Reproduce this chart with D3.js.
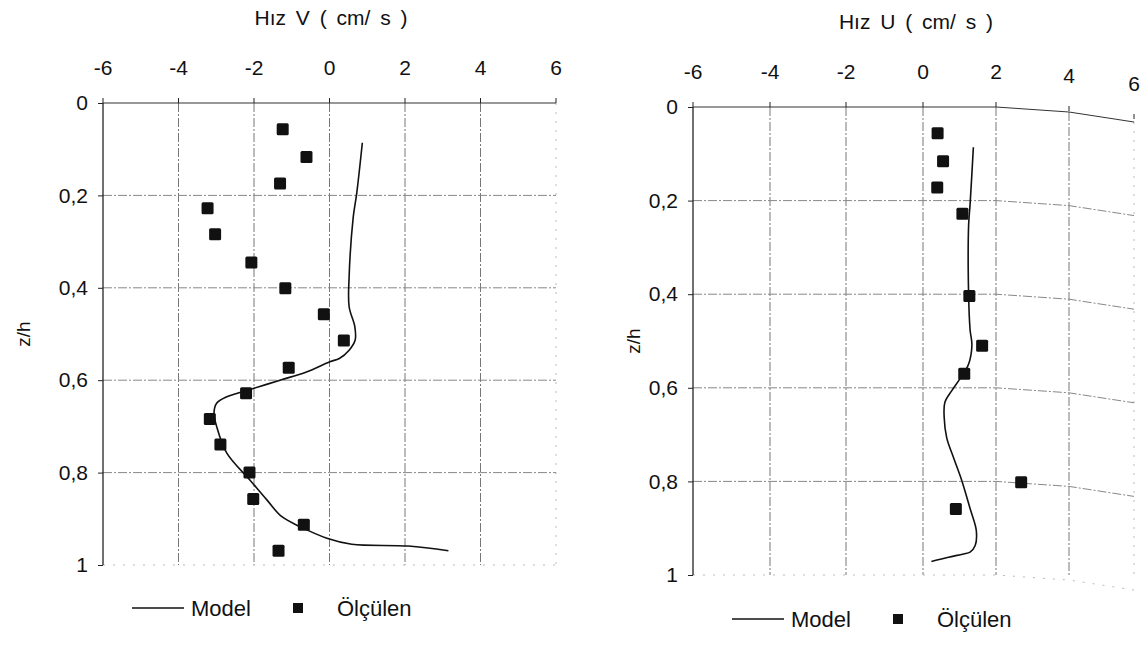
<!DOCTYPE html>
<html>
<head>
<meta charset="utf-8">
<script src="https://cdn.jsdelivr.net/npm/d3@7"></script>
<style>
  body { margin: 0; background: #fff; }
  svg { font-family: "Liberation Sans", Arial, sans-serif; }
  .tick line { stroke: #222; }
  .domain { stroke: none; }
</style>
</head>
<body>
<svg id="chart" width="1148" height="646"></svg>
<script>
// velocity ticks and depth ticks shared by both panels
const velTicks = [-6, -4, -2, 0, 2, 4, 6];
const depthTicks = [0, 0.2, 0.4, 0.6, 0.8, 1];

// V panel: measured (Ölçülen) points
const vMeasZ = [0.057, 0.117, 0.174, 0.228, 0.284, 0.345, 0.401, 0.457, 0.514,
    0.573, 0.628, 0.684, 0.739, 0.800, 0.857, 0.913, 0.969];
const vMeasV = [-1.24, -0.61, -1.31, -3.23, -3.03, -2.07, -1.17, -0.15, 0.38,
    -1.08, -2.21, -3.17, -2.89, -2.12, -2.02, -0.68, -1.35];

// V panel: model line
const vModelZ = [0.086, 0.196, 0.246, 0.376, 0.441, 0.484, 0.513, 0.535, 0.553, 0.560,
    0.582, 0.600, 0.618, 0.636, 0.650, 0.672, 0.700, 0.758, 0.816, 0.859, 0.895,
    0.917, 0.942, 0.955, 0.959, 0.969];
const vModelV = [0.87, 0.72, 0.63, 0.52, 0.52, 0.67, 0.68, 0.52, 0.26, 0.01,
    -0.61, -1.31, -2.02, -2.72, -2.99, -3.06, -2.99, -2.72, -2.11, -1.66, -1.27,
    -0.78, -0.07, 0.59, 2.09, 3.15];

// U panel: measured points
const uMeasZ = [0.056, 0.116, 0.172, 0.228, 0.404, 0.510, 0.570, 0.802, 0.859];
const uMeasU = [0.40, 0.55, 0.39, 1.08, 1.27, 1.62, 1.13, 2.69, 0.90];

// U panel: model line
const uModelZ = [0.086, 0.208, 0.252, 0.403, 0.476, 0.509, 0.549, 0.581, 0.606, 0.631,
    0.663, 0.707, 0.750, 0.800, 0.858, 0.905, 0.937, 0.951, 0.955, 0.962, 0.971];
const uModelU = [1.38, 1.29, 1.25, 1.25, 1.29, 1.34, 1.25, 1.01, 0.79, 0.60,
    0.58, 0.65, 0.84, 1.07, 1.29, 1.46, 1.43, 1.29, 1.11, 0.70, 0.23];

const svg = d3.select("#chart");
const commaFmt = d3.formatLocale({decimal: ",", thousands: ".", grouping: [3], currency: ["", ""]}).format("~g");

// layout of the two panels (the scanned right panel sags at its right edge)
const panels = [
    {title: "Hız V ( cm/ s )", xRange: [103, 556], yRange: [103, 565], titleX: 331, titleY: 25,
     labelPad: 23, yLabelX: 24, sag: [0, 0, 0, 0, 0, 0, 0],
     measZ: vMeasZ, measX: vMeasV, modelZ: vModelZ, modelX: vModelV,
     legendX: 132, legendY: 608},
    {title: "Hız U ( cm/ s )", xRange: [693, 770, 846, 923, 996, 1069, 1134], yRange: [107, 575],
     titleX: 916, titleY: 29, labelPad: 23, yLabelX: 634, sag: [0, 0, 0, 0, 0, 5, 15],
     measZ: uMeasZ, measX: uMeasU, modelZ: uModelZ, modelX: uModelU,
     legendX: 732, legendY: 619}
];

panels.forEach((p) => {
    // x scale (right panel is slightly uneven in the scan, so polylinear)
    const xScale = d3.scaleLinear()
        .domain(p.xRange.length === 2 ? [-6, 6] : velTicks)
        .range(p.xRange);
    const yScale = d3.scaleLinear().domain([0, 1]).range(p.yRange);
    const x0 = xScale(-6), x1 = xScale(6), y0 = yScale(0), y1 = yScale(1);
    const sagScale = d3.scaleLinear().domain(velTicks).range(p.sag);

    const g = svg.append("g");

    // vertical grid
    g.selectAll(".vgrid")
        .data(velTicks.slice(1))
        .enter()
        .append("line")
        .attr("x1", (d) => xScale(d)).attr("x2", (d) => xScale(d))
        .attr("y1", (d) => y0 + sagScale(d)).attr("y2", y1)
        .attr("stroke", (d) => d === 6 ? "#bbb" : "#777")
        .attr("stroke-width", 1)
        .attr("stroke-dasharray", (d) => d === 6 ? "2,7" : "9,2,2,2");

    // horizontal grid (follows the sag of the scan)
    const gridLine = d3.line().x((d) => xScale(d.v)).y((d) => yScale(d.z) + sagScale(d.v));
    g.selectAll(".hgrid")
        .data(depthTicks)
        .enter()
        .append("path")
        .attr("d", (z) => gridLine(velTicks.map((v) => ({v: v, z: z}))))
        .attr("fill", "none")
        .attr("stroke", (d) => d === 0 ? "#333" : (d === 1 ? "#bbb" : "#888"))
        .attr("stroke-width", 1)
        .attr("stroke-dasharray", (d) => d === 0 ? null : (d === 1 ? "2,8" : "9,2,2,2"));

    // left axis line
    g.append("line")
        .attr("x1", x0).attr("x2", x0).attr("y1", y0).attr("y2", y1)
        .attr("stroke", "#111").attr("stroke-width", 1.2);

    // top axis
    g.append("g")
        .attr("transform", `translate(0, ${y0})`)
        .call(d3.axisTop(xScale).tickValues(velTicks).tickSize(5).tickSizeOuter(0).tickPadding(p.labelPad)
            .tickFormat((d) => String(d)))
        .call((a) => a.selectAll(".tick").attr("transform", (d) => `translate(${xScale(d)}, ${sagScale(d) * 0.8})`))
        .call((a) => a.selectAll("text").style("font-size", "21px").attr("fill", "#111"));

    // left axis
    g.append("g")
        .attr("transform", `translate(${x0}, 0)`)
        .call(d3.axisLeft(yScale).tickValues(depthTicks).tickSize(5).tickSizeOuter(0).tickPadding(10)
            .tickFormat(commaFmt))
        .call((a) => a.selectAll("text").style("font-size", "21px").attr("fill", "#111"));

    // titles
    g.append("text")
        .attr("x", p.titleX).attr("y", p.titleY)
        .attr("text-anchor", "middle")
        .style("font-size", "21px")
        .style("word-spacing", "4px")
        .attr("fill", "#111")
        .text(p.title);

    g.append("text")
        .attr("transform", `translate(${p.yLabelX + 6}, ${(y0 + y1) / 2}) rotate(-90)`)
        .attr("text-anchor", "middle")
        .style("font-size", "19px")
        .attr("fill", "#111")
        .text("z/h");

    // model line
    const modelData = p.modelZ.map((z, i) => ({z: z, x: p.modelX[i]}));
    g.append("path")
        .datum(modelData)
        .attr("d", d3.line()
            .x((d) => xScale(d.x))
            .y((d) => yScale(d.z))
            .curve(d3.curveCatmullRom))
        .attr("fill", "none")
        .attr("stroke", "#111")
        .attr("stroke-width", 1.6);

    // measured points
    const measData = p.measZ.map((z, i) => ({z: z, x: p.measX[i]}));
    g.selectAll(".pt")
        .data(measData)
        .enter()
        .append("rect")
        .attr("x", (d) => xScale(d.x) - 6)
        .attr("y", (d) => yScale(d.z) - 6)
        .attr("width", 12).attr("height", 12)
        .attr("rx", 1.5)
        .attr("fill", "#111");

    // legend
    const lg = g.append("g").attr("transform", `translate(${p.legendX}, ${p.legendY})`);
    lg.append("line").attr("x1", 0).attr("x2", 52).attr("y1", 0).attr("y2", 0)
        .attr("stroke", "#111").attr("stroke-width", 1.5);
    lg.append("text").attr("x", 59).attr("y", 8).style("font-size", "22px").attr("fill", "#111").text("Model");
    lg.append("rect").attr("x", 161).attr("y", -5).attr("width", 10).attr("height", 10).attr("fill", "#111");
    lg.append("text").attr("x", 205).attr("y", 8).style("font-size", "22px").attr("fill", "#111").text("Ölçülen");
});
</script>
</body>
</html>
